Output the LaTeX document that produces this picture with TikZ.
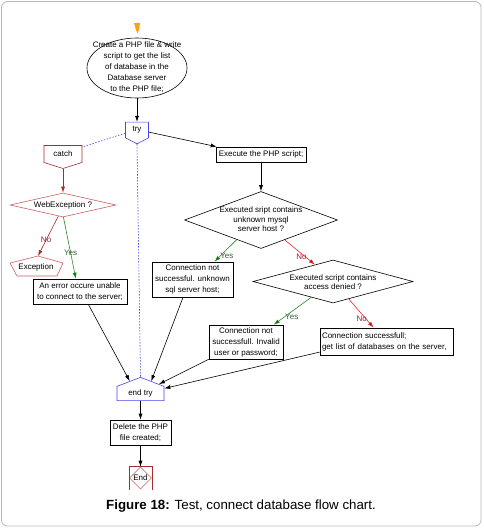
\documentclass[tikz,border=0pt]{standalone}
\usepackage{fontspec}
\setmainfont{Liberation Sans}
\usetikzlibrary{shapes.geometric,shapes.symbols,arrows.meta}

\definecolor{tryblue}{RGB}{70,70,235}
\definecolor{catchred}{RGB}{165,45,45}
\definecolor{webred}{RGB}{205,95,95}
\definecolor{yesgreen}{RGB}{40,135,40}
\definecolor{nored}{RGB}{225,40,40}
\definecolor{yeslbl}{RGB}{55,95,55}
\definecolor{nolbl}{RGB}{150,30,55}
\definecolor{startorange}{RGB}{250,160,20}

\begin{document}
\begin{tikzpicture}
[
x=1pt, y=-1pt, line width=0.6pt,
every node/.style={font=\fontsize{8}{11}\selectfont, inner sep=1pt},
box/.style={draw, rectangle, align=center, fill=white},
dec/.style={draw, diamond, inner sep=0},
flag/.style={draw=tryblue, signal, inner sep=0, fill=white},
txt/.style={align=center, inner sep=0},
arr/.style={-{Latex[length=6pt,width=4pt]}},
dots/.style={draw=tryblue, dash pattern=on 1.5pt off 1.5pt},
yes/.style={draw=yesgreen, -{Latex[length=6pt,width=4pt,fill=green!40!black]}},
no/.style={draw=nored, -{Latex[length=6pt,width=4pt,fill=red!80!black]}},
yeslab/.style={text=yeslbl},
nolab/.style={text=nolbl}
]
\useasboundingbox (0,0) rectangle (483,528);
\draw[gray!55, rounded corners=6pt, line width=0.8pt] (1.5,1.5) rectangle (481,526);

\fill[startorange] (134,23) -- (140,23) -- (139,30) -- (137.5,33) -- (136,30) -- cycle;
\node[draw, ellipse, minimum width=100, minimum height=60, inner sep=0] (make) at (137,68) {};
\node[txt] (maketxt) at (137,67) {Create a PHP file \& write\\script to get the list\\of database in the\\Database server\\to the PHP file;};

\node[flag, signal to=south, signal pointer angle=125, minimum width=23, minimum height=18] (try) at (137,130) {try};
\node[box, minimum width=90, minimum height=15] (exe) at (261,154.5) {Execute the PHP script;};
\node[dec, minimum width=153, minimum height=57] (q1) at (261,220) {};
\node[txt, font=\fontsize{8}{9.5}\selectfont] (q1txt) at (261,219.5) {Executed sript contains\\unknown mysql\\server host ?};

\node[flag, draw=catchred, signal to=south, signal pointer angle=145, minimum width=38, minimum height=20] (catch) at (63,154) {catch};
\node[dec, draw=webred, aspect=4.4, minimum width=106, minimum height=24] (web) at (63,205) {WebException ?};
\node (exc) at (36,267) {Exception};
\draw[webred] (38,256) -- (63,263) -- (57,276) -- (17,276) -- (10,263) -- cycle;
\coordinate (exctop) at (38,256);
\node[box, minimum width=94, minimum height=25] (err) at (80,291.5) {An error occure unable\\to connect to the server;};

\node[box, minimum width=81, minimum height=35] (unk) at (192.5,279.5) {Connection not\\successful. unknown\\sql server host;};
\node[dec, minimum width=160, minimum height=43] (q2) at (333,281.5) {};
\node[txt, font=\fontsize{8}{9.5}\selectfont] (q2txt) at (333,282) {Executed script contains\\access denied ?};
\node[box, minimum width=74, minimum height=34] (inv) at (246,342) {Connection not\\successfull. Invalid\\user or password;};
\node[box, align=left, minimum width=133, minimum height=27, text width=129] (suc) at (386.5,341.5) {Connection successfull;\\get list of databases on the server,};

\node[flag, signal to=north, signal pointer angle=138, minimum width=47, minimum height=19] (endtry) at (140.5,393.5) {end try};
\node[box, minimum width=61, minimum height=25] (del) at (140.5,432.5) {Delete the PHP\\file created;};
\node[draw=webred!80, diamond, minimum width=22, minimum height=22, inner sep=0] (fin) at (140.5,478) {End};
\draw[catchred] (129,490) -- (129,466) -- (152,466) -- (152,490);

\draw[arr] (make.south) -- (try.north);
\draw[dots] (try.195) -- (catch.20);
\draw[arr] (try.-10) -- (exe.170);
\draw[dots] (try.south) -- (endtry.north);
\draw[arr] (exe.south) -- (q1.north);
\draw[catchred, -{Latex[length=6pt,width=4pt]}] (catch.south) -- (web.north);
\draw[catchred, -{Latex[length=6pt,width=4pt]}] (web.-113) -- node[pos=0.6, nolab] {No} (exctop);
\draw[yes] (web.-88) -- node[pos=0.58, yeslab] {Yes} (err.108);
\draw[yes] (q1.219) -- node[pos=0.75, right=-1pt, yeslab] {Yes} (unk.39);
\draw[no] (q1.-40) -- node[pos=0.7, left=-2pt, nolab] {No} (q2.137);
\draw[yes] (q2.216) -- node[pos=0.7, right=-1pt, yeslab] {Yes} (inv.32);
\draw[no] (q2.-48) -- node[pos=0.7, left=-2pt, nolab] {No} (suc.133);
\draw[arr] (err.-57) -- (endtry.131);
\draw[arr] (unk.-118) -- (endtry.49);
\draw[arr] (inv.south west) -- (endtry.27);
\draw[arr] (suc.189) -- (endtry.12);
\draw[arr] (endtry.south) -- (del.north);
\draw[arr] (del.south) -- (fin.north);

\node (cap) at (241,506) {\fontsize{13.3}{15}\selectfont\textbf{Figure 18:} Test, connect database flow chart.};
\end{tikzpicture}
\end{document}
